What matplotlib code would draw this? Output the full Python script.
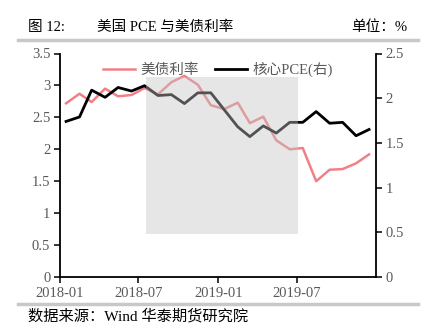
#!/usr/bin/env python3
import pandas as pd
import matplotlib
matplotlib.use("Agg")
import matplotlib.pyplot as plt
import matplotlib.dates as mdates
from matplotlib.ticker import FuncFormatter
from matplotlib.lines import Line2D

# monthly data, 2018-01 .. 2019-12 (points sit mid-month)
months = pd.date_range("2018-01-01", periods=24, freq="MS") + pd.Timedelta(days=14)
treasury_yield = [2.72, 2.87, 2.74, 2.95, 2.83, 2.85, 2.96, 2.86, 3.05, 3.15, 3.01, 2.69,
                  2.63, 2.73, 2.41, 2.51, 2.14, 2.00, 2.02, 1.50, 1.68, 1.69, 1.78, 1.92]
core_pce = [1.74, 1.79, 2.09, 2.01, 2.12, 2.08, 2.14, 2.03, 2.04, 1.94, 2.06, 2.06,
            1.87, 1.68, 1.57, 1.69, 1.61, 1.73, 1.73, 1.85, 1.72, 1.73, 1.58, 1.65]
x_ticks = ["2018-01-01", "2018-07-01", "2019-01-01", "2019-07-01"]

# shaded period (right-axis units for height)
shade_start, shade_end = "2018-07-18", "2019-07-04"
shade_low, shade_high = 0.477, 2.238

PINK = "#F08088"
GREY_TXT = "#595959"


def main():
    plt.rcParams["font.family"] = ["Liberation Serif", "Noto Sans CJK SC"]
    fig = plt.figure(figsize=(4.31, 3.36), dpi=100)
    ax = fig.add_axes([60 / 431, 1 - 277 / 336, 316 / 431, 223.5 / 336])
    ax2 = ax.twinx()

    ax.plot(months, treasury_yield, color=PINK, lw=1.8, zorder=2)
    ax2.plot(months, core_pce, color="black", lw=2.0, zorder=2)
    ax2.fill_between(pd.to_datetime([shade_start, shade_end]), shade_low, shade_high,
                     color="#c4c4c4", alpha=0.42, lw=0, zorder=3)

    ax.set_ylim(0, 3.5)
    ax2.set_ylim(0, 2.5)
    ax.set_yticks([0, 0.5, 1, 1.5, 2, 2.5, 3, 3.5])
    ax2.set_yticks([0, 0.5, 1, 1.5, 2, 2.5])
    fmt = FuncFormatter(lambda v, p: "%g" % v)
    ax.yaxis.set_major_formatter(fmt)
    ax2.yaxis.set_major_formatter(fmt)

    ax.set_xlim(pd.Timestamp("2018-01-01"), pd.Timestamp("2019-12-31"))
    ax.set_xticks(pd.to_datetime(x_ticks))
    ax.xaxis.set_major_formatter(mdates.DateFormatter("%Y-%m"))

    for a in (ax, ax2):
        a.spines["top"].set_visible(False)
        for s in ("left", "right", "bottom"):
            a.spines[s].set_linewidth(1.3)
        a.tick_params(labelsize=10.5, labelcolor=GREY_TXT, length=4, width=1.1,
                      direction="out", pad=3)
    ax.spines["right"].set_visible(False)
    ax2.spines["left"].set_visible(False)
    ax2.spines["bottom"].set_visible(False)

    handles = [Line2D([], [], color=PINK, lw=1.8), Line2D([], [], color="black", lw=2.0)]
    ax2.legend(handles, ["美债利率", "核心PCE(右)"], loc="upper center",
               bbox_to_anchor=(0.5, 1.0), ncol=2, frameon=False, fontsize=10.5,
               labelcolor=GREY_TXT, handlelength=2.2, handletextpad=0.4,
               columnspacing=1.1, borderaxespad=0.2)

    # header / footer
    fig.text(28 / 431, 1 - 27.5 / 336, "图 12:", fontsize=10.5, va="center")
    fig.text(97 / 431, 1 - 27.5 / 336, "美国 PCE 与美债利率", fontsize=10.5, va="center")
    fig.text(407 / 431, 1 - 27.5 / 336, "单位：%", fontsize=10.5, va="center", ha="right")
    fig.add_artist(Line2D([18 / 431, 418 / 431], [1 - 40 / 336] * 2, color="#c8c8c8", lw=2.5))
    fig.add_artist(Line2D([18 / 431, 418 / 431], [1 - 304 / 336] * 2, color="#c8c8c8", lw=2.5))
    fig.text(28 / 431, 1 - 316 / 336, "数据来源：Wind 华泰期货研究院", fontsize=11, va="center")

    fig.savefig("out.png", dpi=100)


if __name__ == "__main__":
    main()
